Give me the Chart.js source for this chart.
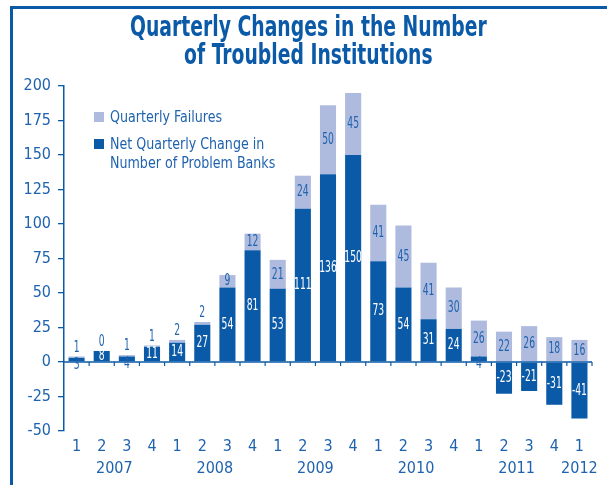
<!DOCTYPE html>
<html>
<head>
<meta charset="utf-8">
<script src="https://cdn.jsdelivr.net/npm/chart.js@4.4.1/dist/chart.umd.min.js"></script>
<style>
  html, body { margin: 0; padding: 0; background: #fff; }
  #wrap { position: relative; width: 607px; height: 485px; overflow: hidden; }
  #chart { position: absolute; left: 0; top: 0; }
  .frame-top { position: absolute; left: 10px; top: 6px; width: 597px; height: 3px; background: #0b5aa8; }
  .frame-left { position: absolute; left: 10px; top: 6px; width: 3px; height: 479px; background: #0b5aa8; }
  #title {
    position: absolute; left: 10px; width: 597px; top: 12px;
    text-align: center; color: #0b5aa8;
    font-family: "DejaVu Sans Condensed", sans-serif;
    font-weight: bold; font-size: 29px; line-height: 28px;
    transform: scaleX(0.72); transform-origin: 298px 0;
  }
  .legend { position: absolute; color: #1f62ae; font-family: "DejaVu Sans Condensed", sans-serif;
            font-size: 16px; line-height: 19px; white-space: nowrap; }
  .legend .sw { position: absolute; width: 10px; height: 10px; }
  .legend .tx { margin-left: 16px; transform: scaleX(0.88); transform-origin: 0 0; }
</style>
</head>
<body>
<div id="wrap">
  <canvas id="chart" width="607" height="485"></canvas>
  <div class="frame-top"></div>
  <div class="frame-left"></div>
  <div id="title">Quarterly Changes in the Number<br>of Troubled Institutions</div>
  <div class="legend" style="left:94px; top:107px;">
    <div class="sw" style="left:0; top:5px; background:#aebbde;"></div>
    <div class="tx">Quarterly Failures</div>
  </div>
  <div class="legend" style="left:94px; top:134px;">
    <div class="sw" style="left:0; top:5px; background:#0b5aa8;"></div>
    <div class="tx">Net Quarterly Change in<br>Number of Problem Banks</div>
  </div>
</div>
<script>
// quarter of each bar and its year
const quarters = ['1','2','3','4','1','2','3','4','1','2','3','4','1','2','3','4','1','2','3','4','1'];
const quarterYears = ['2007','2007','2007','2007','2008','2008','2008','2008','2009','2009','2009','2009',
                      '2010','2010','2010','2010','2011','2011','2011','2011','2012'];

// series values
const netChange = [3, 8, 4, 11, 14, 27, 54, 81, 53, 111, 136, 150, 73, 54, 31, 24, 4, -23, -21, -31, -41];
const failures = [1, 0, 1, 1, 2, 2, 9, 12, 21, 24, 50, 45, 41, 45, 41, 30, 26, 22, 26, 18, 16];

// y axis ticks
const yTicks = [-50, -25, 0, 25, 50, 75, 100, 125, 150, 175, 200];

const DARK = '#0b5aa8';
const LIGHT = '#aebbde';
const TEXT = '#1f62ae';
const FONT = '"DejaVu Sans Condensed", sans-serif';

// year label positions: middle of each year's quarters
const years = [];
const yearCenters = [];
quarterYears.forEach(function(y) {
    if (years.indexOf(y) === -1) years.push(y);
});
years.forEach(function(y) {
    const idx = [];
    quarterYears.forEach(function(q, i) { if (q === y) idx.push(i); });
    yearCenters.push((idx[0] + idx[idx.length - 1]) / 2);
});

// narrow text, the original uses a condensed face
function narrowText(ctx, text, x, y, sx) {
    ctx.save();
    ctx.translate(x, y);
    ctx.scale(sx, 1);
    ctx.fillText(text, 0, 0);
    ctx.restore();
}

// zero line with small ticks between quarters, and year labels
const axisExtrasPlugin = {
    id: 'axisExtras',
    afterDatasetsDraw: function(chart) {
        const ctx = chart.ctx;
        const x = chart.scales.x;
        const y0 = chart.scales.y.getPixelForValue(0);
        const area = chart.chartArea;
        ctx.save();
        ctx.strokeStyle = DARK;
        ctx.lineWidth = 1.5;
        ctx.beginPath();
        ctx.moveTo(area.left, y0);
        ctx.lineTo(area.right, y0);
        ctx.stroke();
        ctx.lineWidth = 1.2;
        const half = (x.getPixelForValue(1) - x.getPixelForValue(0)) / 2;
        for (let i = 0; i < quarters.length; i++) {
            const px = x.getPixelForValue(i) + half;
            ctx.beginPath();
            ctx.moveTo(px, y0);
            ctx.lineTo(px, y0 + 4);
            ctx.stroke();
        }

        ctx.fillStyle = TEXT;
        ctx.font = '16px ' + FONT;
        ctx.textAlign = 'center';
        ctx.textBaseline = 'middle';
        years.forEach(function(y, k) {
            ctx.fillText(y, x.getPixelForValue(yearCenters[k]), area.bottom + 38);
        });
        ctx.restore();
    }
};

// value labels on the bars
const barLabelPlugin = {
    id: 'barLabels',
    afterDraw: function(chart) {
        const ctx = chart.ctx;
        ctx.save();
        ctx.font = '16px ' + FONT;
        ctx.textAlign = 'center';
        ctx.textBaseline = 'middle';
        const sx = 0.64;

        const netMeta = chart.getDatasetMeta(0);
        netMeta.data.forEach(function(el, i) {
            const h = Math.abs(el.base - el.y);
            const cy = (el.y + el.base) / 2;
            if (h >= 10) {
                ctx.fillStyle = '#ffffff';
                narrowText(ctx, String(netChange[i]), el.x, cy, sx);
            } else {
                ctx.fillStyle = TEXT;
                narrowText(ctx, String(netChange[i]), el.x, cy + 5, sx);
            }
        });

        const failMeta = chart.getDatasetMeta(1);
        failMeta.data.forEach(function(el, i) {
            const h = Math.abs(el.base - el.y);
            ctx.fillStyle = TEXT;
            if (h >= 10) {
                narrowText(ctx, String(failures[i]), el.x, (el.y + el.base) / 2, sx);
            } else {
                narrowText(ctx, String(failures[i]), el.x, Math.min(el.y, el.base) - 9, sx);
            }
        });
        ctx.restore();
    }
};

new Chart(document.getElementById('chart'), {
    type: 'bar',
    data: {
        labels: quarters,
        datasets: [
            {
                label: 'Net Quarterly Change in Number of Problem Banks',
                data: netChange,
                backgroundColor: DARK,
                borderWidth: 0,
                barPercentage: 0.64,
                categoryPercentage: 1
            },
            {
                label: 'Quarterly Failures',
                data: failures,
                backgroundColor: LIGHT,
                borderWidth: 0,
                barPercentage: 0.64,
                categoryPercentage: 1
            }
        ]
    },
    options: {
        responsive: false,
        animation: false,
        layout: { padding: { left: 14, right: 15, top: 86, bottom: 26 } },
        plugins: {
            legend: { display: false },
            title: { display: false },
            tooltip: { enabled: false }
        },
        scales: {
            x: {
                stacked: true,
                grid: { display: false },
                border: { display: false },
                ticks: { color: TEXT, font: { family: FONT, size: 16 }, padding: -2, maxRotation: 0, autoSkip: false },
                afterFit: function(scale) { scale.height = 28; }
            },
            y: {
                stacked: true,
                min: -50,
                max: 200,
                afterBuildTicks: function(scale) {
                    scale.ticks = yTicks.map(function(v) { return { value: v }; });
                },
                grid: { drawOnChartArea: false, drawTicks: true, tickLength: 6, color: DARK, lineWidth: 1.3 },
                border: { display: true, color: DARK, width: 1.5 },
                ticks: { color: TEXT, font: { family: FONT, size: 16 }, padding: 7 },
                afterFit: function(scale) { scale.width = 50; }
            }
        }
    },
    plugins: [axisExtrasPlugin, barLabelPlugin]
});
</script>
</body>
</html>
